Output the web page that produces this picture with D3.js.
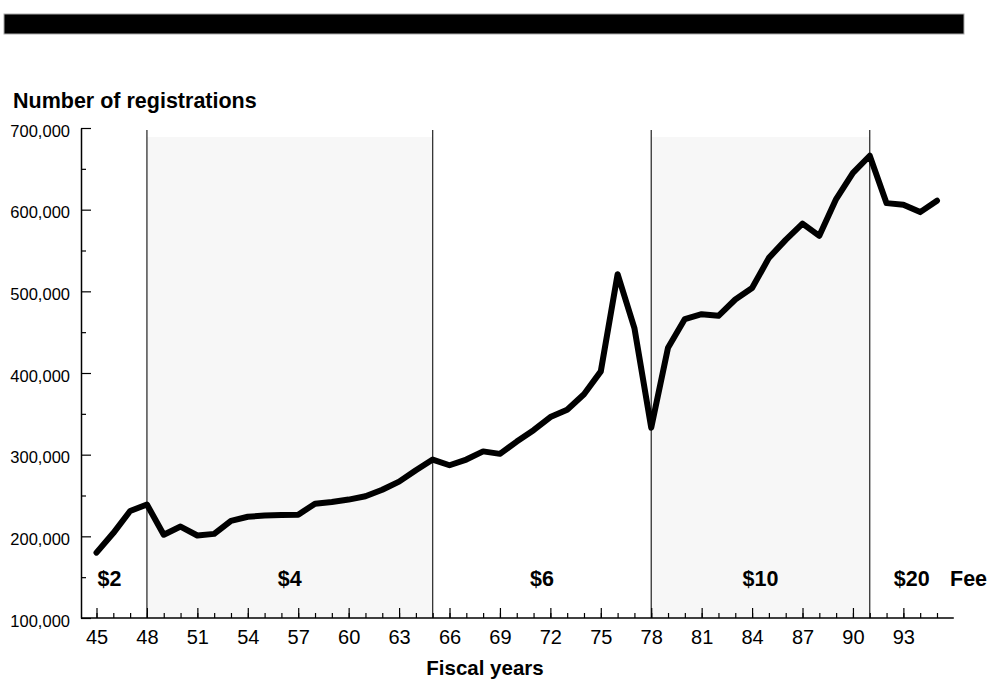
<!DOCTYPE html>
<html>
<head>
<meta charset="utf-8">
<script src="https://cdn.jsdelivr.net/npm/d3@7"></script>
<style>
  body { margin: 0; background: #fff; }
  svg { font-family: "Liberation Sans", Arial, sans-serif; }
  .bold { font-weight: bold; font-size: 21.5px; fill: #000; }
  .xlab { font-size: 20px; }
  .ylab { font-size: 16.5px; }
</style>
</head>
<body>
<script>
// Registrations per fiscal year (19xx)
const years = [45, 46, 47, 48, 49, 50, 51, 52, 53, 54, 55, 56, 57, 58, 59, 60, 61, 62, 63, 64,
  65, 66, 67, 68, 69, 70, 71, 72, 73, 74, 75, 76, 77, 78, 79, 80, 81, 82, 83, 84,
  85, 86, 87, 88, 89, 90, 91, 92, 93, 94, 95];
const registrations = [180000, 204000, 231000, 239000, 202000, 212000, 201000, 203000, 219000, 224000,
  225500, 226000, 226500, 240000, 242000, 245000, 249000, 257000, 267000, 281000,
  294000, 287000, 294000, 304000, 301000, 316000, 330000, 346000, 355000, 374000,
  402000, 521000, 455000, 333000, 431000, 466000, 472000, 470000, 490000, 504000,
  541000, 563000, 583000, 568000, 613000, 645000, 666000, 608000, 606000, 597000, 611000];

// Fee periods
const feeLabels = ['$2', '$4', '$6', '$10', '$20'];
const feeStart = [45, 48, 65, 78, 91];
const feeEnd = [48, 65, 78, 91, 96];

// Axis ticks
const xMajorTicks = [45, 48, 51, 54, 57, 60, 63, 66, 69, 72, 75, 78, 81, 84, 87, 90, 93];
const yMajorTicks = [100000, 200000, 300000, 400000, 500000, 600000, 700000];
const yMinorTicks = [150000, 250000, 350000, 450000, 550000, 650000];

const width = 991, height = 679;
const axisX = 81;

const svg = d3.select('body').append('svg')
  .attr('width', width)
  .attr('height', height);

// black banner at the top
svg.append('rect')
  .attr('x', 4).attr('y', 14)
  .attr('width', 960).attr('height', 20)
  .attr('fill', '#000')
  .attr('stroke', '#aaa')
  .attr('stroke-width', 1);

const x = d3.scaleLinear().domain([45, 96]).range([96.5, 953.8]);
const y = d3.scaleLinear().domain([100000, 700000]).range([618, 128]);

const feeData = feeLabels.map((label, i) => ({ label, start: feeStart[i], end: feeEnd[i], i }));

// shaded fee periods
svg.selectAll('rect.band')
  .data(feeData.filter(d => d.i % 2 === 1))
  .enter().append('rect')
  .attr('class', 'band')
  .attr('x', d => x(d.start))
  .attr('y', 137)
  .attr('width', d => x(d.end) - x(d.start))
  .attr('height', y(100000) - 137)
  .attr('fill', '#f7f7f7');

// fee change lines
svg.selectAll('line.fee')
  .data(feeData.slice(1))
  .enter().append('line')
  .attr('class', 'fee')
  .attr('x1', d => x(d.start)).attr('x2', d => x(d.start))
  .attr('y1', 130).attr('y2', y(100000))
  .attr('stroke', '#222')
  .attr('stroke-width', 1.2);

// fee labels
svg.selectAll('text.feeLabel')
  .data(feeData)
  .enter().append('text')
  .attr('class', 'bold feeLabel')
  .attr('x', d => d.i === 0 ? x(d.start) + 13 : (x(d.start) + x(d.end)) / 2)
  .attr('y', 586)
  .attr('text-anchor', 'middle')
  .text(d => d.label);

svg.append('text')
  .attr('class', 'bold')
  .attr('x', 950).attr('y', 586)
  .text('Fee');

// x axis
svg.append('line')
  .attr('x1', axisX).attr('x2', x(96))
  .attr('y1', y(100000)).attr('y2', y(100000))
  .attr('stroke', '#000').attr('stroke-width', 1.5);

const xMinor = svg.append('g')
  .attr('transform', `translate(0,${y(100000)})`)
  .call(d3.axisBottom(x).tickValues(years).tickSize(-5).tickFormat(''));
xMinor.select('.domain').remove();

const xMajor = svg.append('g')
  .attr('transform', `translate(0,${y(100000)})`)
  .call(d3.axisBottom(x).tickValues(xMajorTicks).tickSize(-10).tickPadding(12).tickFormat(d3.format('d')));
xMajor.select('.domain').remove();
xMajor.attr('font-size', null).attr('font-family', null);
xMajor.selectAll('text').attr('class', 'xlab').attr('font-size', 20);

// y axis
const yMinor = svg.append('g')
  .attr('transform', `translate(${axisX},0)`)
  .call(d3.axisLeft(y).tickValues(yMinorTicks).tickSize(-5).tickFormat(''));
yMinor.select('.domain').remove();

const yMajor = svg.append('g')
  .attr('transform', `translate(${axisX},0)`)
  .call(d3.axisLeft(y).tickValues(yMajorTicks).tickSizeInner(-10).tickSizeOuter(0)
    .tickPadding(11).tickFormat(d3.format(',')));
yMajor.select('.domain').attr('stroke', '#000').attr('stroke-width', 1.5);
yMajor.attr('font-size', null).attr('font-family', null);
yMajor.selectAll('text').attr('class', 'ylab').attr('font-size', 16.5).attr('dy', '0.5em');

svg.selectAll('.tick line').attr('stroke', '#000').attr('stroke-width', 1.2);
svg.selectAll('.tick text').attr('fill', '#000');

// line
const line = d3.line()
  .x((d, i) => x(years[i]))
  .y(d => y(d));

svg.append('path')
  .datum(registrations)
  .attr('d', line)
  .attr('fill', 'none')
  .attr('stroke', '#000')
  .attr('stroke-width', 6)
  .attr('stroke-linejoin', 'round')
  .attr('stroke-linecap', 'round');

// titles
svg.append('text')
  .attr('class', 'bold')
  .attr('x', 13).attr('y', 108)
  .text('Number of registrations');

svg.append('text')
  .attr('class', 'bold')
  .attr('x', 485).attr('y', 675)
  .attr('text-anchor', 'middle')
  .style('font-size', '20.5px')
  .text('Fiscal years');
</script>
</body>
</html>
